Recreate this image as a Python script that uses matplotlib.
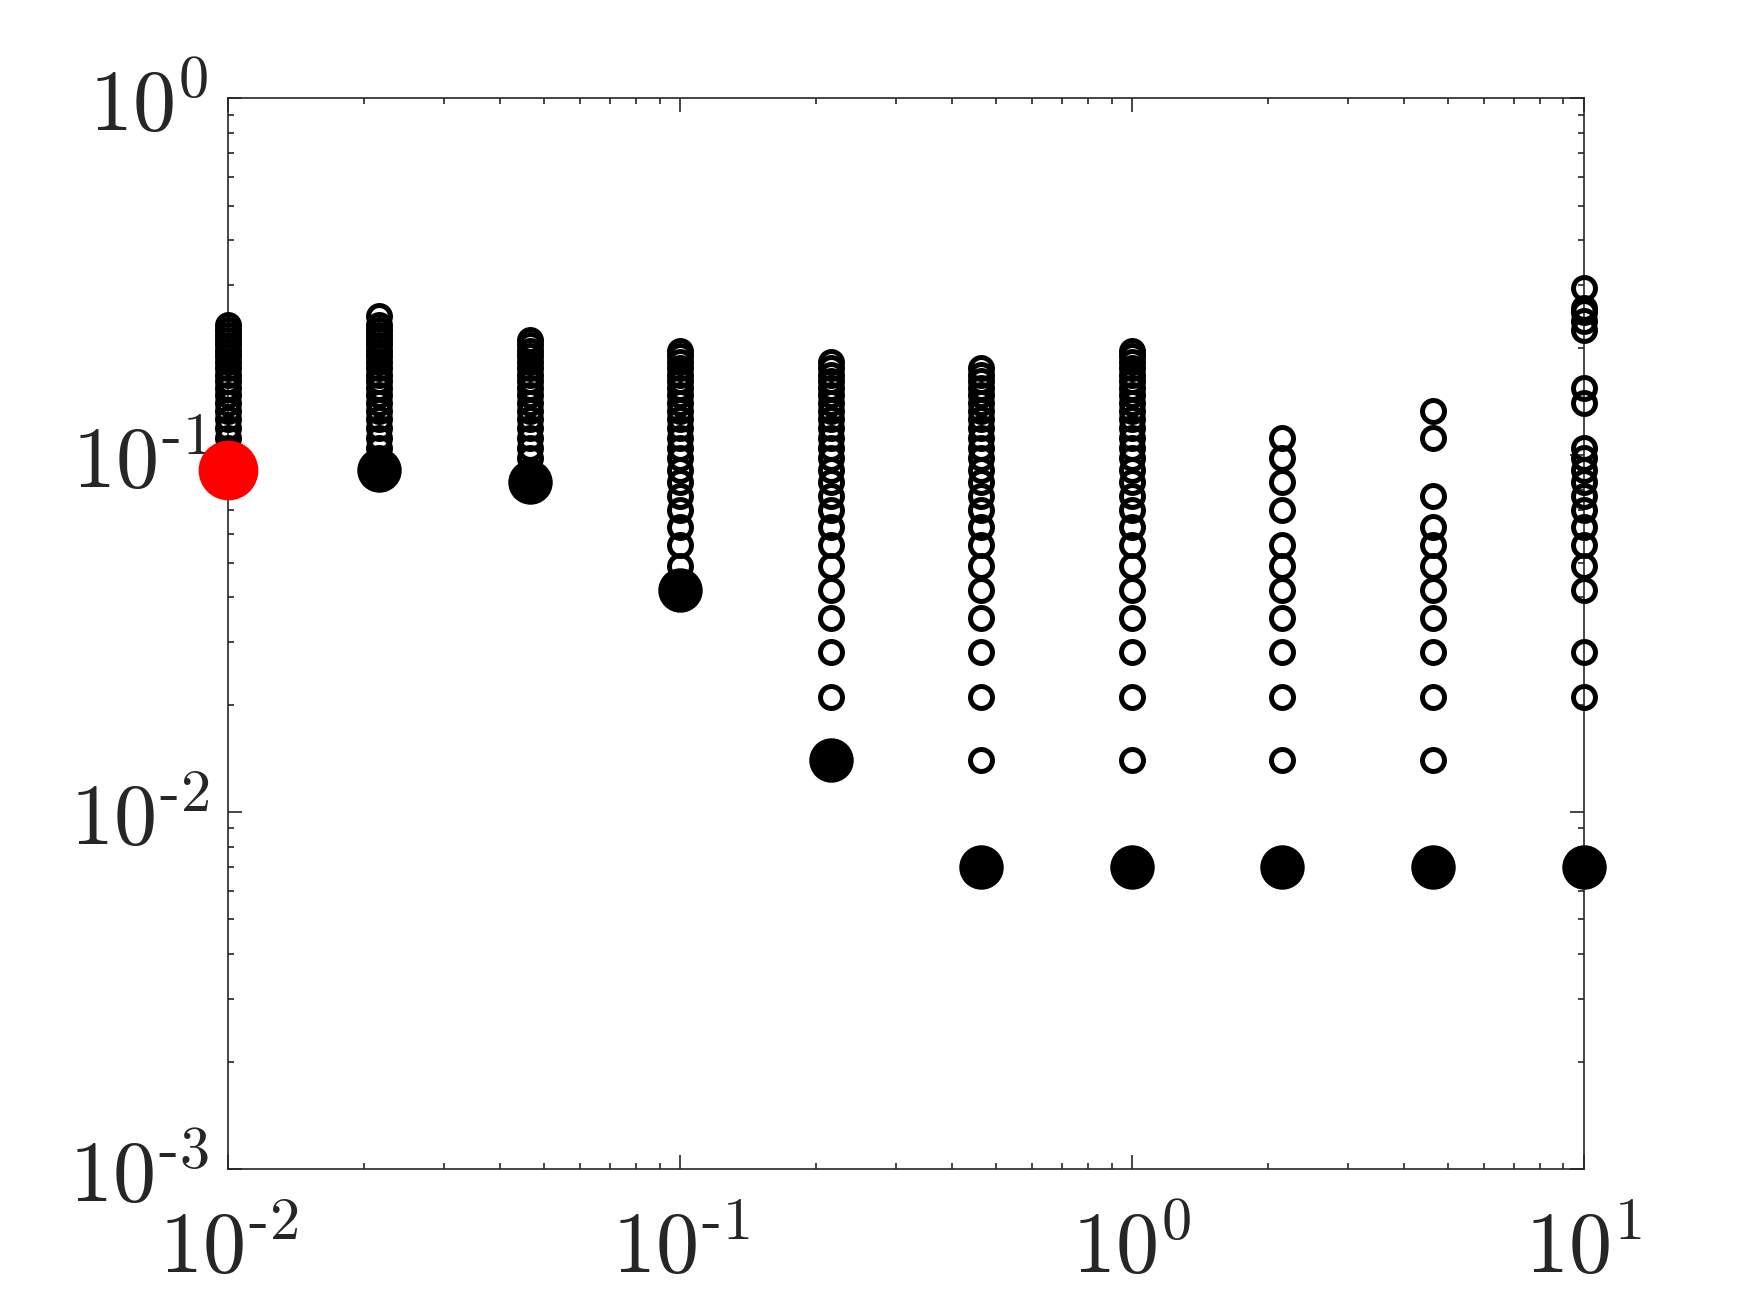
import matplotlib
matplotlib.use('Agg')
import matplotlib.pyplot as plt
from matplotlib.ticker import LogLocator, FuncFormatter, NullFormatter
import numpy as np

plt.rcParams['mathtext.fontset'] = 'cm'
plt.rcParams['font.family'] = 'serif'
plt.rcParams['font.serif'] = ['DejaVu Serif']

# x positions of the ten columns
x_cols = [0.01, 0.0215, 0.0464, 0.1, 0.215, 0.464, 1.0, 2.15, 4.64, 10.0]

# open circles, one list per column
open_c1 = [0.098, 0.105, 0.112, 0.119, 0.126, 0.133, 0.140, 0.147, 0.154, 0.161,
           0.168, 0.175, 0.182, 0.189, 0.196, 0.203, 0.210, 0.217, 0.224, 0.231]
open_c2 = [0.098, 0.105, 0.112, 0.119, 0.126, 0.133, 0.140, 0.147, 0.154, 0.161,
           0.168, 0.175, 0.182, 0.189, 0.196, 0.203, 0.210, 0.217, 0.224, 0.231, 0.245]
open_c3 = [0.091, 0.098, 0.105, 0.112, 0.119, 0.126, 0.133, 0.140, 0.147, 0.154,
           0.161, 0.168, 0.175, 0.182, 0.189, 0.196, 0.203, 0.210]
open_c4 = [0.049, 0.056, 0.063, 0.070, 0.077, 0.084, 0.091, 0.098, 0.105, 0.112,
           0.119, 0.126, 0.133, 0.140, 0.147, 0.154, 0.161, 0.168, 0.175, 0.182,
           0.189, 0.196]
open_c5 = [0.021, 0.028, 0.035, 0.042, 0.049, 0.056, 0.063, 0.070, 0.077, 0.084,
           0.091, 0.098, 0.105, 0.112, 0.119, 0.126, 0.133, 0.140, 0.147, 0.154,
           0.161, 0.168, 0.175, 0.182]
open_c6 = [0.014, 0.021, 0.028, 0.035, 0.042, 0.049, 0.056, 0.063, 0.070, 0.077,
           0.084, 0.091, 0.098, 0.105, 0.112, 0.119, 0.126, 0.133, 0.140, 0.147,
           0.154, 0.161, 0.168, 0.175]
open_c7 = [0.014, 0.021, 0.028, 0.035, 0.042, 0.049, 0.056, 0.063, 0.070, 0.077,
           0.084, 0.091, 0.098, 0.105, 0.112, 0.119, 0.126, 0.133, 0.140, 0.147,
           0.154, 0.161, 0.168, 0.175, 0.182, 0.189, 0.196]
open_c8 = [0.014, 0.021, 0.028, 0.035, 0.042, 0.049, 0.056, 0.070, 0.084, 0.098, 0.112]
open_c9 = [0.014, 0.021, 0.028, 0.035, 0.042, 0.049, 0.056, 0.063, 0.077, 0.112, 0.133]
open_c10 = [0.021, 0.028, 0.042, 0.049, 0.056, 0.063, 0.070, 0.077, 0.084, 0.091,
            0.098, 0.105, 0.140, 0.154, 0.224, 0.238, 0.252, 0.259, 0.294]
open_cols = [open_c1, open_c2, open_c3, open_c4, open_c5,
             open_c6, open_c7, open_c8, open_c9, open_c10]

# filled circles (lowest value per column); the first one is red
best_vals = [0.091, 0.091, 0.084, 0.042, 0.014, 0.007, 0.007, 0.007, 0.007, 0.007]


def pow_label(v, pos):
    e = int(round(np.log10(v)))
    if e < 0:
        return r'$10^{\text{-}%d}$' % (-e)
    return r'$10^{%d}$' % e


fig = plt.figure(figsize=(8.75, 6.565), dpi=200)
ax = fig.add_axes([0.1305, 0.1097, 0.7747, 0.8155])

for xc, ys in zip(x_cols, open_cols):
    ax.plot([xc] * len(ys), ys, 'o', ms=7.9, mfc='none', mec='k', mew=1.8,
            linestyle='none', clip_on=False, zorder=3)

ax.plot(x_cols[1:], best_vals[1:], 'o', ms=15, color='k', linestyle='none',
        clip_on=False, zorder=4)
ax.plot(x_cols[:1], best_vals[:1], 'o', ms=20.5, color='r', linestyle='none',
        clip_on=False, zorder=5)

ax.set_xscale('log')
ax.set_yscale('log')
ax.set_xlim(1e-2, 1e1)
ax.set_ylim(1e-3, 1e0)

for axis in [ax.xaxis, ax.yaxis]:
    axis.set_major_locator(LogLocator(base=10, numticks=10))
    axis.set_minor_locator(LogLocator(base=10, subs=range(2, 10), numticks=10))
    axis.set_major_formatter(FuncFormatter(pow_label))
    axis.set_minor_formatter(NullFormatter())

ax.tick_params(which='both', direction='in', top=True, right=True,
               colors='#262626', labelsize=31, width=0.6)
ax.tick_params(which='major', length=5)
ax.tick_params(which='minor', length=2.2)
ax.tick_params(axis='x', pad=14)
ax.tick_params(axis='y', pad=7)
for sp in ax.spines.values():
    sp.set_color('#262626')
    sp.set_linewidth(0.6)

fig.savefig('out.png', dpi=200)
